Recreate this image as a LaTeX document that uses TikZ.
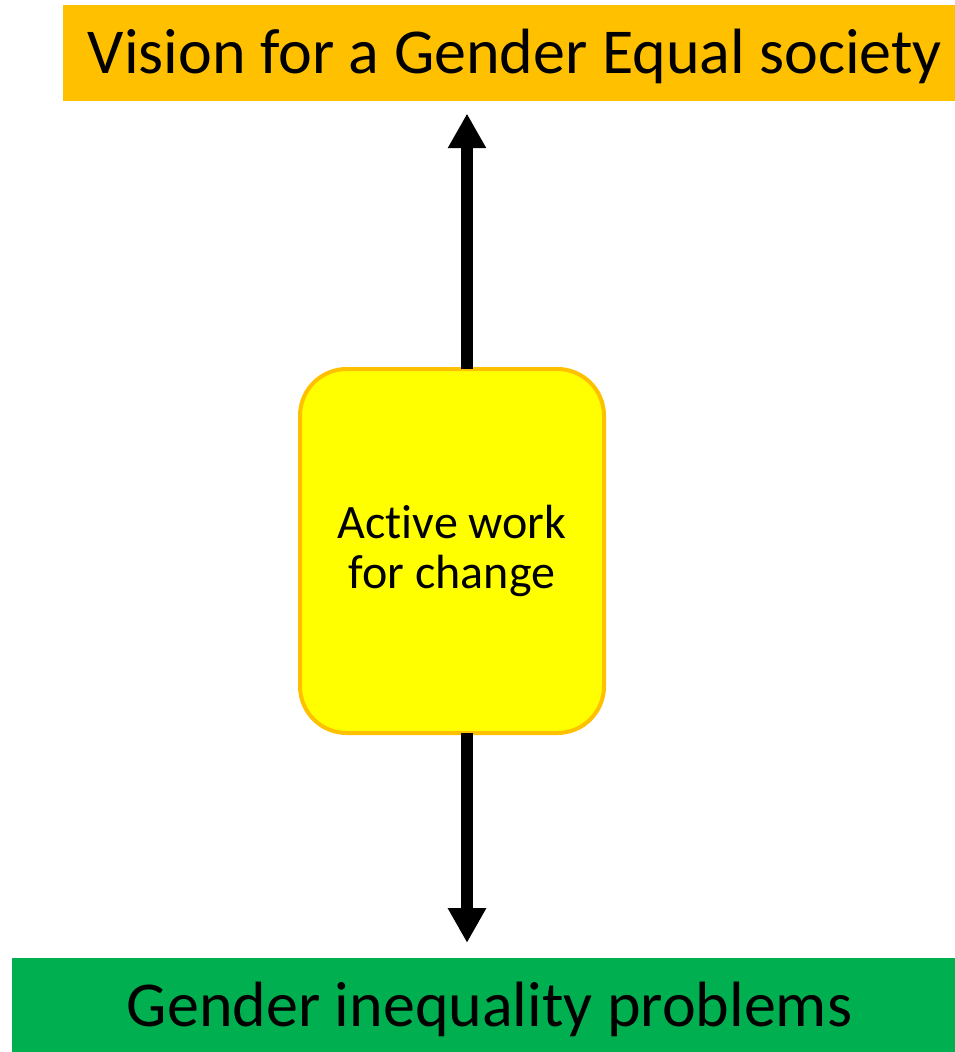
\documentclass[tikz,border=0pt]{standalone}
\usepackage{fontspec}
\setmainfont{Carlito}[Ligatures=NoCommon]
\usetikzlibrary{arrows.meta}

\definecolor{visionorange}{RGB}{255,192,0}
\definecolor{problemgreen}{RGB}{0,176,80}
\definecolor{workyellow}{RGB}{255,255,0}

\tikzset{every picture/.style={line width=0.75pt}}
\tikzset{
  bigbar/.style={inner sep=0pt, font=\fontsize{48}{58}\selectfont},
  workbox/.style={draw=visionorange, fill=workyellow, line width=3pt, rounded corners=35pt,
    minimum width=228pt, minimum height=273pt, align=center, font=\fontsize{36}{37.5}\selectfont},
  bigarrow/.style={line width=9pt, -{Triangle[length=26pt,width=27pt]}}
}

\begin{document}
\begin{tikzpicture}[x=0.75pt,y=0.75pt,yscale=-1,xscale=1]
\useasboundingbox (0,0) rectangle (955,1052);

% top bar
\node [bigbar, fill=visionorange, minimum width=669pt, minimum height=72pt] (vision) at (509,53) {\hspace*{9pt}\raisebox{-2.5pt}[\height][\depth]{Vision for a Gender Equal society}};
% bottom bar
\node [bigbar, fill=problemgreen, minimum width=707.25pt, minimum height=70.5pt] (problems) at (483.5,1005) {\hspace*{9pt}\raisebox{-3pt}[\height][\depth]{Gender inequality problems}};
% middle box
\node [workbox] (work) at (452,551) {Active work\\for change};

% arrows
\coordinate (worktop) at (467,369);
\coordinate (workbottom) at (467,733);
\draw [bigarrow, shorten >=9pt] (worktop) -- (worktop |- vision.south);
\draw [bigarrow, shorten >=11pt] (workbottom) -- (workbottom |- problems.north);

\end{tikzpicture}
\end{document}
